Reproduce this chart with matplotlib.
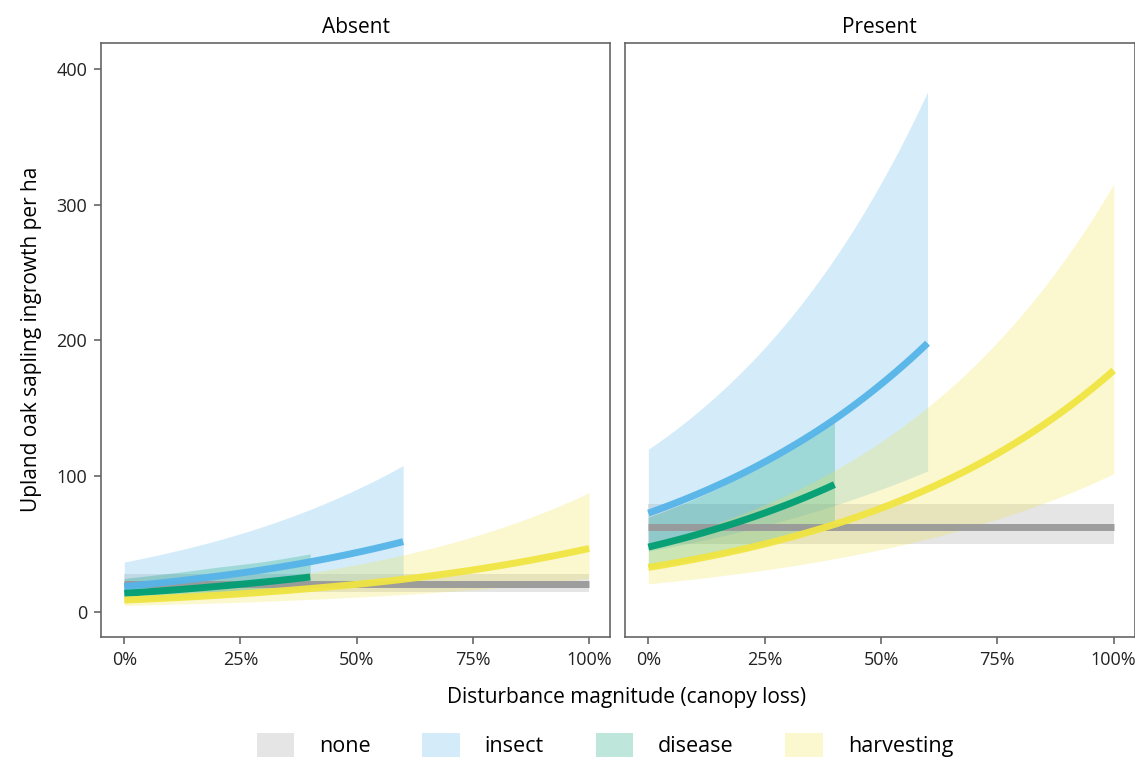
import numpy as np
import matplotlib.pyplot as plt
from matplotlib.patches import Patch

plt.rcParams['font.family'] = ['Open Sans', 'DejaVu Sans']

# disturbance magnitude (share of canopy lost)
x_full = [0.0, 0.1, 0.2, 0.3, 0.4, 0.5, 0.6, 0.7, 0.8, 0.9, 1.0]
x_insect = [0.0, 0.1, 0.2, 0.3, 0.4, 0.5, 0.6]
x_disease = [0.0, 0.1, 0.2, 0.3, 0.4]

# panel "Absent"
abs_none = [21, 21, 21, 21, 21, 21, 21, 21, 21, 21, 21]
abs_none_lo = [15, 15, 15, 15, 15, 15, 15, 15, 15, 15, 15]
abs_none_hi = [28, 28, 28, 28, 28, 28, 28, 28, 28, 28, 28]
abs_insect = [19, 22.5, 26.6, 31.4, 37.2, 44, 52]
abs_insect_lo = [10, 11.6, 13.6, 15.8, 18.4, 21.5, 25]
abs_insect_hi = [37, 44.3, 52.9, 63.3, 75.7, 90.5, 108]
abs_disease = [14, 16.3, 19.1, 22.3, 26]
abs_disease_lo = [8, 9.5, 11.3, 13.5, 16]
abs_disease_hi = [25, 28.8, 33.2, 37.3, 43]
abs_harv = [9, 10.6, 12.5, 14.8, 17.5, 20.6, 24.3, 28.7, 33.9, 40.0, 47]
abs_harv_lo = [5, 5.9, 6.9, 8.1, 9.5, 11.2, 13.1, 15.4, 18.1, 21.3, 25]
abs_harv_hi = [14, 16.8, 20.2, 24.3, 29.2, 35.1, 42.2, 50.7, 61, 73.3, 88]

# panel "Present"
pre_none = [63, 63, 63, 63, 63, 63, 63, 63, 63, 63, 63]
pre_none_lo = [50, 50, 50, 50, 50, 50, 50, 50, 50, 50, 50]
pre_none_hi = [80, 80, 80, 80, 80, 80, 80, 80, 80, 80, 80]
pre_insect = [73, 86.2, 101.8, 120.3, 142, 167.8, 198]
pre_insect_lo = [45, 51.7, 59.5, 68.4, 78.7, 90.5, 104]
pre_insect_hi = [120, 145.6, 176.7, 214.4, 260.2, 315.7, 383]
pre_disease = [48, 56.8, 67.2, 79.5, 94]
pre_disease_lo = [33, 38.8, 45.6, 53.5, 63]
pre_disease_hi = [70, 83.6, 99.8, 119.1, 142]
pre_harv = [33, 39.1, 46.2, 54.7, 64.7, 76.6, 90.7, 107.3, 127, 150.3, 178]
pre_harv_lo = [21, 24.6, 28.8, 33.7, 39.5, 46.2, 54.1, 63.4, 74.2, 86.9, 102]
pre_harv_hi = [50, 60.1, 72.2, 86.8, 104.4, 125.5, 150.8, 181.3, 217.9, 262, 315]

groups = ['none', 'insect', 'disease', 'harvesting']
colors = {'none': '#999999', 'insect': '#56B4E9', 'disease': '#009E73', 'harvesting': '#F0E442'}

panels = {
    'Absent': [
        ('none', x_full, abs_none, abs_none_lo, abs_none_hi),
        ('insect', x_insect, abs_insect, abs_insect_lo, abs_insect_hi),
        ('disease', x_disease, abs_disease, abs_disease_lo, abs_disease_hi),
        ('harvesting', x_full, abs_harv, abs_harv_lo, abs_harv_hi),
    ],
    'Present': [
        ('none', x_full, pre_none, pre_none_lo, pre_none_hi),
        ('insect', x_insect, pre_insect, pre_insect_lo, pre_insect_hi),
        ('disease', x_disease, pre_disease, pre_disease_lo, pre_disease_hi),
        ('harvesting', x_full, pre_harv, pre_harv_lo, pre_harv_hi),
    ],
}

fig = plt.figure(figsize=(11.35, 7.59), dpi=100)
ax1 = fig.add_axes([0.089, 0.161, 0.4485, 0.7826])
ax2 = fig.add_axes([0.5507, 0.161, 0.449, 0.7826], sharey=ax1)

def smooth(xs, ys):
    # dense points along the read values, on a log scale so curves stay smooth
    xx = np.linspace(xs[0], xs[-1], 120)
    yy = np.exp(np.interp(xx, xs, np.log(ys)))
    return xx, yy

for ax, (name, series) in zip([ax1, ax2], panels.items()):
    for g, xs, m, lo, hi in series:
        xx, ylo = smooth(xs, lo)
        _, yhi = smooth(xs, hi)
        ax.fill_between(xx, ylo, yhi, color=colors[g], alpha=0.25, lw=0)
    for g, xs, m, lo, hi in series:
        xx, ym = smooth(xs, m)
        ax.plot(xx, ym, color=colors[g], lw=5, alpha=0.95, solid_capstyle='butt')
    ax.set_xlim(-0.05, 1.045)
    ax.set_ylim(-18, 419)
    ax.set_xticks([0, 0.25, 0.5, 0.75, 1.0])
    ax.set_xticklabels(['0%', '25%', '50%', '75%', '100%'])
    ax.set_yticks([0, 100, 200, 300, 400])
    ax.tick_params(direction='out', length=5, width=1.2, color='#666666',
                   labelsize=13, labelcolor='#222222', pad=5)
    for s in ax.spines.values():
        s.set_color('#666666')
        s.set_linewidth(1.2)
    ax.set_title(name, fontsize=15, pad=7)

ax2.tick_params(labelleft=False, left=False)
ax1.set_ylabel('Upland oak sapling ingrowth per ha', fontsize=15, labelpad=10)
fig.text(0.552, 0.081, 'Disturbance magnitude (canopy loss)', ha='center', va='center', fontsize=15)

handles = [Patch(facecolor=colors[g], alpha=0.25, edgecolor='none') for g in groups]
fig.legend(handles, groups, loc='center', bbox_to_anchor=(0.533, 0.018), ncol=4,
           frameon=False, fontsize=15.5, handlelength=1.75, handleheight=1.3,
           columnspacing=2.4, handletextpad=1.15)

fig.savefig('out.png', dpi=100)
